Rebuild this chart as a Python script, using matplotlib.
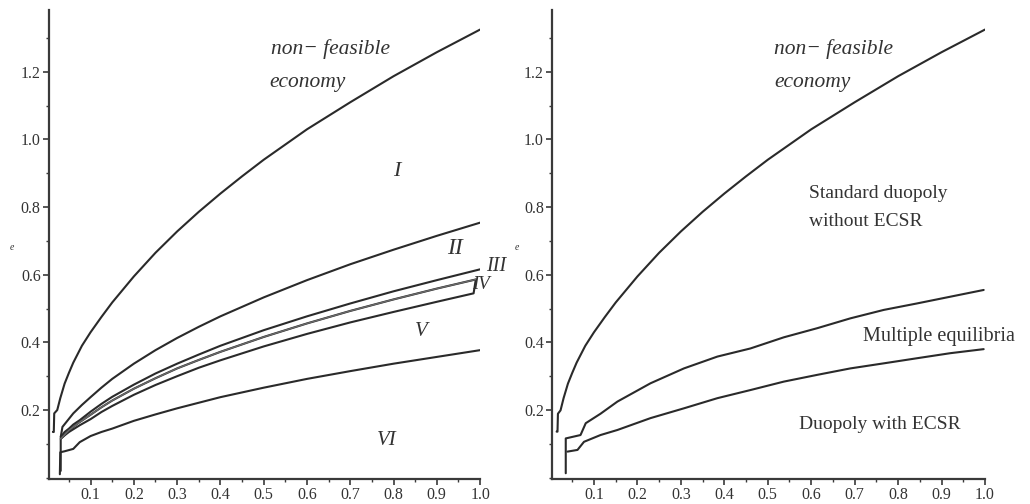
import matplotlib
matplotlib.use("Agg")
import matplotlib.pyplot as plt
from matplotlib.ticker import MultipleLocator, FixedLocator

plt.rcParams['font.family'] = ['Liberation Serif', 'DejaVu Serif']

# ---------------- data ----------------
# Left panel
xA = [0.013, 0.015, 0.016, 0.023, 0.03, 0.04, 0.05, 0.06, 0.08, 0.1, 0.125, 0.15, 0.2, 0.25, 0.3,
      0.35, 0.4, 0.45, 0.5, 0.6, 0.7, 0.8, 0.9, 1.0]
yA = [0.135, 0.135, 0.19, 0.20, 0.235, 0.278, 0.31, 0.34, 0.39, 0.43, 0.475, 0.518, 0.595, 0.665, 0.728,
      0.786, 0.84, 0.891, 0.94, 1.03, 1.11, 1.187, 1.258, 1.325]

xB = [0.031, 0.035, 0.045, 0.06, 0.08, 0.1, 0.125, 0.15, 0.2, 0.25, 0.3, 0.35, 0.4, 0.5, 0.6, 0.7, 0.8, 0.9, 1.0]
yB = [0.12, 0.15, 0.166, 0.19, 0.215, 0.238, 0.266, 0.292, 0.337, 0.377, 0.413, 0.446, 0.477, 0.533, 0.584,
      0.631, 0.674, 0.715, 0.754]

xIII = [0.031, 0.04, 0.05, 0.06, 0.075, 0.1, 0.125, 0.15, 0.2, 0.25, 0.3, 0.35, 0.4, 0.5, 0.6, 0.7, 0.8, 0.9, 1.0]
yIII = [0.12, 0.135, 0.145, 0.157, 0.17, 0.195, 0.218, 0.239, 0.275, 0.308, 0.337, 0.364, 0.39, 0.436, 0.477,
        0.515, 0.551, 0.584, 0.616]

xIV = [0.031, 0.05, 0.07, 0.1, 0.125, 0.15, 0.2, 0.25, 0.3, 0.35, 0.4, 0.5, 0.6, 0.7, 0.8, 0.9, 0.99]
yIV = [0.115, 0.14, 0.16, 0.186, 0.208, 0.228, 0.263, 0.294, 0.323, 0.348, 0.372, 0.416, 0.456, 0.493, 0.527,
       0.559, 0.586]

xV = [0.031, 0.031, 0.04, 0.05, 0.075, 0.1, 0.125, 0.15, 0.2, 0.25, 0.3, 0.35, 0.4, 0.5, 0.6, 0.7, 0.8, 0.9,
      0.985, 0.99]
yV = [0.02, 0.115, 0.125, 0.135, 0.155, 0.173, 0.194, 0.212, 0.245, 0.274, 0.30, 0.325, 0.347, 0.388, 0.425,
      0.459, 0.49, 0.52, 0.545, 0.585]

xVI = [0.029, 0.03, 0.04, 0.06, 0.075, 0.1, 0.125, 0.15, 0.2, 0.25, 0.3, 0.4, 0.5, 0.6, 0.7, 0.8, 0.9, 1.0]
yVI = [0.01, 0.075, 0.078, 0.085, 0.105, 0.123, 0.135, 0.145, 0.168, 0.187, 0.205, 0.238, 0.266, 0.292, 0.315,
       0.337, 0.357, 0.377]

# Right panel
xTopR = [0.014, 0.016, 0.017, 0.023, 0.03, 0.04, 0.05, 0.06, 0.08, 0.1, 0.125, 0.15, 0.2, 0.25, 0.3,
         0.35, 0.4, 0.45, 0.5, 0.6, 0.7, 0.8, 0.9, 1.0]
yTopR = [0.136, 0.136, 0.189, 0.199, 0.235, 0.278, 0.31, 0.34, 0.39, 0.43, 0.475, 0.518, 0.595, 0.665, 0.728,
         0.786, 0.84, 0.891, 0.94, 1.03, 1.11, 1.187, 1.258, 1.325]

xMid = [0.035, 0.035, 0.069, 0.081, 0.115, 0.154, 0.230, 0.307, 0.384, 0.460, 0.537, 0.614, 0.690, 0.767,
        0.843, 0.920, 0.997]
yMid = [0.013, 0.116, 0.126, 0.161, 0.189, 0.225, 0.279, 0.323, 0.358, 0.382, 0.415, 0.442, 0.471, 0.496,
        0.515, 0.535, 0.555]

xLow = [0.039, 0.062, 0.077, 0.115, 0.154, 0.230, 0.307, 0.384, 0.460, 0.537, 0.614, 0.690, 0.767, 0.843,
        0.920, 0.997]
yLow = [0.077, 0.082, 0.106, 0.126, 0.141, 0.176, 0.205, 0.235, 0.259, 0.284, 0.304, 0.323, 0.338, 0.353,
        0.368, 0.380]

x_ticks = [0.1, 0.2, 0.3, 0.4, 0.5, 0.6, 0.7, 0.8, 0.9, 1.0]
x_ticklabels = ["0.1", "0.2", "0.3", "0.4", "0.5", "0.6", "0.7", "0.8", "0.9", "1.0"]
y_ticks = [0.2, 0.4, 0.6, 0.8, 1.0, 1.2]
y_ticklabels = ["0.2", "0.4", "0.6", "0.8", "1.0", "1.2"]

LC = '#2a2a2a'
AX = '#3a3a3a'

fig = plt.figure(figsize=(10.3, 5.04), dpi=100)
axL = fig.add_axes([0.0476, 0.0496, 0.4185, 0.930])
axR = fig.add_axes([0.5362, 0.0496, 0.4201, 0.930])

def style(ax):
    ax.set_xlim(0.004, 1.0)
    ax.set_ylim(-0.004, 1.382)
    for s in ['top', 'right']:
        ax.spines[s].set_visible(False)
    for s in ['left', 'bottom']:
        ax.spines[s].set_color(AX)
        ax.spines[s].set_linewidth(1.6)
    ax.xaxis.set_major_locator(FixedLocator(x_ticks))
    ax.set_xticklabels(x_ticklabels)
    ax.yaxis.set_major_locator(FixedLocator(y_ticks))
    ax.set_yticklabels(y_ticklabels)
    ax.xaxis.set_minor_locator(MultipleLocator(0.05))
    ax.yaxis.set_minor_locator(MultipleLocator(0.1))
    ax.tick_params(which='major', direction='out', length=4, width=1.2, color=AX,
                   labelsize=11.5, labelcolor='#333333', pad=2)
    ax.tick_params(which='minor', direction='out', length=2.5, width=1.0, color=AX)
    ax.patch.set_alpha(0)

style(axL)
style(axR)

lw = 1.5
for xs, ys in [(xA, yA), (xB, yB), (xIII, yIII), (xIV, yIV), (xV, yV), (xVI, yVI)]:
    axL.plot(xs, ys, color=LC, lw=lw, solid_capstyle='round', solid_joinstyle='round')
axL.plot(xIV, yIV, color='#6a6a6a', lw=1.0)

axR.plot(xTopR, yTopR, color=LC, lw=lw, solid_capstyle='round', solid_joinstyle='round')
axR.plot(xMid, yMid, color=LC, lw=lw, solid_capstyle='round', solid_joinstyle='round')
axR.plot(xLow, yLow, color=LC, lw=lw, solid_capstyle='round', solid_joinstyle='round')

tc = '#333333'
# left annotations
axL.text(0.655, 1.267, "non\u2212 feasible", style='italic', fontsize=15.5, color=tc, ha='center', va='center')
axL.text(0.514, 1.167, "economy", style='italic', fontsize=15.5, color=tc, ha='left', va='center')
axL.text(0.807, 0.905, "I", style='italic', fontsize=16, color=tc, ha='center', va='center')
axL.text(0.941, 0.678, "II", style='italic', fontsize=17, color=tc, ha='center', va='center')
axL.text(1.038, 0.624, "III", style='italic', fontsize=14.5, color=tc, ha='center', va='center', clip_on=False)
axL.text(1.003, 0.570, "IV", style='italic', fontsize=13.5, color=tc, ha='center', va='center', clip_on=False)
axL.text(0.864, 0.432, "V", style='italic', fontsize=15, color=tc, ha='center', va='center')
axL.text(0.784, 0.111, "VI", style='italic', fontsize=15, color=tc, ha='center', va='center')

# right annotations
axR.text(0.514, 1.267, "non\u2212 feasible", style='italic', fontsize=15.5, color=tc, ha='left', va='center')
axR.text(0.514, 1.167, "economy", style='italic', fontsize=15.5, color=tc, ha='left', va='center')
axR.text(0.594, 0.841, "Standard duopoly", fontsize=14, color=tc, ha='left', va='center')
axR.text(0.596, 0.757, "without ECSR", fontsize=14, color=tc, ha='left', va='center')
axR.text(0.72, 0.417, "Multiple equilibria", fontsize=14.5, color=tc, ha='left', va='center', clip_on=False)
axR.text(0.571, 0.156, "Duopoly with ECSR", fontsize=14, color=tc, ha='left', va='center')

# axis name "e"
fig.text(12 / 1030, 1 - 248 / 504, "e", style='italic', fontsize=7, color=tc, ha='center', va='center')
fig.text(517 / 1030, 1 - 248 / 504, "e", style='italic', fontsize=7, color=tc, ha='center', va='center')

fig.savefig("out.png", dpi=100, facecolor='white')
